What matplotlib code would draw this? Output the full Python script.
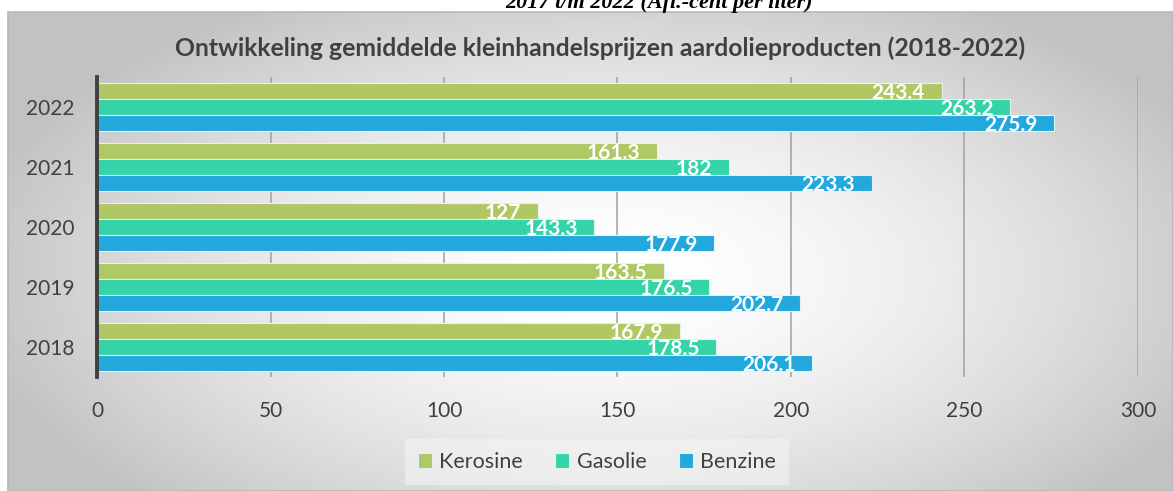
import numpy as np
import matplotlib.pyplot as plt

plt.rcParams['font.family'] = ['Lato', 'DejaVu Sans']

# data
years = ["2018", "2019", "2020", "2021", "2022"]
kerosine = [167.9, 163.5, 127, 161.3, 243.4]
gasolie = [178.5, 176.5, 143.3, 182, 263.2]
benzine = [206.1, 202.7, 177.9, 223.3, 275.9]
series = [("Kerosine", kerosine, "#B0C864"),
          ("Gasolie", gasolie, "#34D4A8"),
          ("Benzine", benzine, "#22A8DC")]

W, H = 1173, 491
fig = plt.figure(figsize=(W / 100, H / 100), dpi=100)
fig.patch.set_facecolor("white")

# gradient background of the chart area
bg = fig.add_axes([8 / W, 0, 1 - 8 / W, (H - 12) / H])
bg.set_xticks([])
bg.set_yticks([])
for s in bg.spines.values():
    s.set_color("#b8b8b8")
    s.set_linewidth(1.2)
yy, xx = np.mgrid[0:1:300j, 0:1:700j]
r = np.sqrt(((xx - 0.52) / 0.75) ** 2 + ((yy - 0.55) / 0.9) ** 2)
r = np.clip(r / 0.75, 0, 1)
shade = 1.0 - 0.24 * r ** 1.6
bg.imshow(shade, cmap="gray", vmin=0, vmax=1, aspect="auto",
          extent=[0, 1, 0, 1], interpolation="bilinear")

# caption above the chart, cut off by the top edge (as in the source)
fig.text(659 / W, 1 - 3 / H, "2017 t/m 2022 (Afl.-cent per liter)",
         family="Liberation Serif", style="italic", weight="bold",
         fontsize=16, ha="center", va="center", color="black")

ax = fig.add_axes([97 / W, 1 - 377 / H, (1138 - 97) / W, (377 - 77) / H])
ax.patch.set_alpha(0)

y = np.arange(len(years))
h = 0.265
for i, (name, vals, col) in enumerate(series):
    pos = y + (1 - i) * h
    ax.barh(pos, vals, height=h, color=col, edgecolor="#e6f2f2",
            linewidth=0.8, label=name, zorder=3)
    for p, v in zip(pos, vals):
        ax.annotate(f"{v:g}", (v, p), xytext=(-12, -1.5),
                    textcoords="offset points", ha="right", va="center",
                    color="white", fontsize=15, fontweight="bold", zorder=4)

ax.set_xlim(0, 300)
ax.set_ylim(-0.5, 4.5)
ax.set_xticks(range(0, 301, 50))
ax.set_yticks(y)
ax.set_yticklabels(years)
ax.grid(axis="x", color="#a6a6a6", linewidth=1.2, zorder=0)
for s in ["top", "right", "bottom"]:
    ax.spines[s].set_visible(False)
ax.spines["left"].set_color("#404040")
ax.spines["left"].set_linewidth(2.8)
ax.spines["left"].set_zorder(5)
ax.tick_params(axis="both", length=0, labelsize=15, colors="#404040")
ax.tick_params(axis="x", pad=17)
ax.tick_params(axis="y", pad=16)

fig.text(600 / W, 1 - 48 / H,
         "Ontwikkeling gemiddelde kleinhandelsprijzen aardolieproducten (2018-2022)",
         ha="center", va="center", fontsize=17.8, fontweight="bold",
         color="#404040")

handles, labels = ax.get_legend_handles_labels()
leg = fig.legend(handles, labels, loc="center", ncol=3,
                 bbox_to_anchor=(597 / W, 1 - 462 / H), fontsize=15.5,
                 frameon=True, fancybox=False, handlelength=0.65,
                 handleheight=0.65, handletextpad=0.35, columnspacing=1.5,
                 borderpad=0.6)
leg.get_frame().set_facecolor("#f4f4f4")
leg.get_frame().set_alpha(0.6)
leg.get_frame().set_edgecolor("none")
for t in leg.get_texts():
    t.set_color("#404040")

fig.savefig("out.png", dpi=100)
